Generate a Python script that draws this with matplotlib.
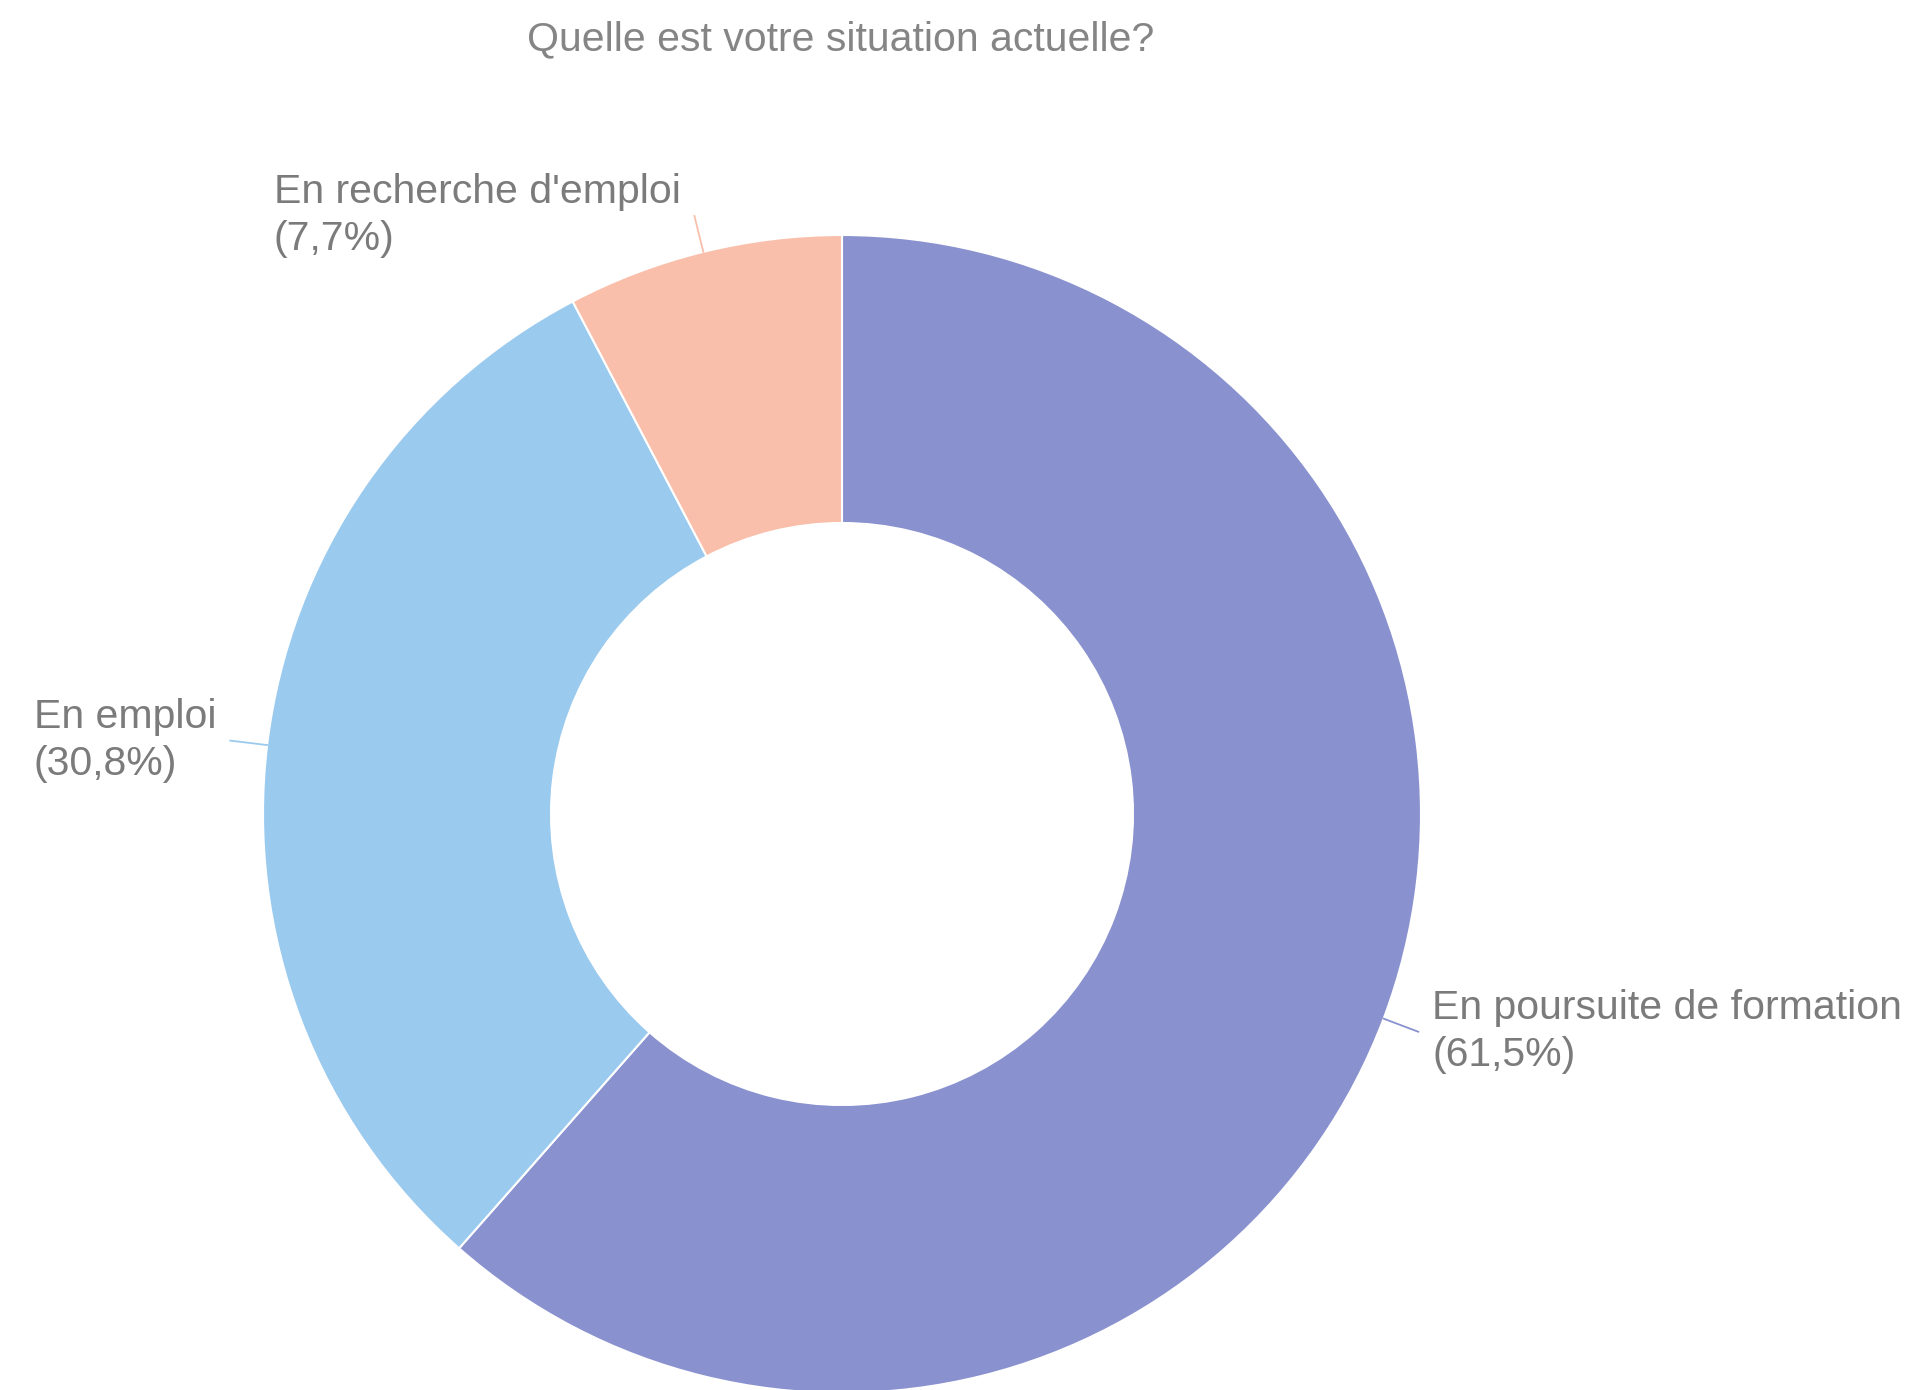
import numpy as np
import matplotlib
matplotlib.use("Agg")
import matplotlib.pyplot as plt

# Chart data
categories = ["En poursuite de formation", "En emploi", "En recherche d'emploi"]
values = [61.5, 30.8, 7.7]
pct_labels = ["61,5%", "30,8%", "7,7%"]
colors = ["#8991cf", "#9bcaef", "#f9bfab"]

title = "Quelle est votre situation actuelle?"

plt.rcParams['font.family'] = ['Liberation Sans', 'DejaVu Sans']

W, H = 1906, 1390
fig = plt.figure(figsize=(W / 100, H / 100), dpi=100)
ax = fig.add_axes([0, 0, 1, 1])

# donut geometry (pixel space, y up)
cx, cy = 842, H - 814
r_out = 579
r_in = 291

wedges, _ = ax.pie(values, colors=colors, startangle=90, counterclock=False,
                   center=(cx, cy), radius=r_out, frame=True,
                   wedgeprops=dict(width=r_out - r_in, edgecolor='white', linewidth=1.5))
ax.set_xlim(0, W)
ax.set_ylim(0, H)
ax.set_axis_off()

# leader lines + labels at the middle of each wedge
text_color = '#7b7b7b'
lead_len = 37
gap = 14
for w, cat, pct, col in zip(wedges, categories, pct_labels, colors):
    ang = np.deg2rad((w.theta1 + w.theta2) / 2)
    x0 = cx + r_out * np.cos(ang)
    y0 = cy + r_out * np.sin(ang)
    x1 = cx + (r_out + lead_len) * np.cos(ang)
    y1 = cy + (r_out + lead_len) * np.sin(ang)
    ax.plot([x0, x1], [y0, y1], color=col, linewidth=1.3, clip_on=False)
    if np.cos(ang) >= 0:
        ha, tx = 'left', x1 + gap
    else:
        ha, tx = 'right', x1 - gap
    ax.text(tx, y1, f"{cat}\n({pct})", ha=ha, va='center', multialignment='left',
            fontsize=29.5, color=text_color, linespacing=1.3)

ax.text(841, H - 39, title, ha='center', va='center', fontsize=29.5, color='#858585')

fig.savefig("out.png", dpi=100, facecolor='white')
plt.close(fig)
